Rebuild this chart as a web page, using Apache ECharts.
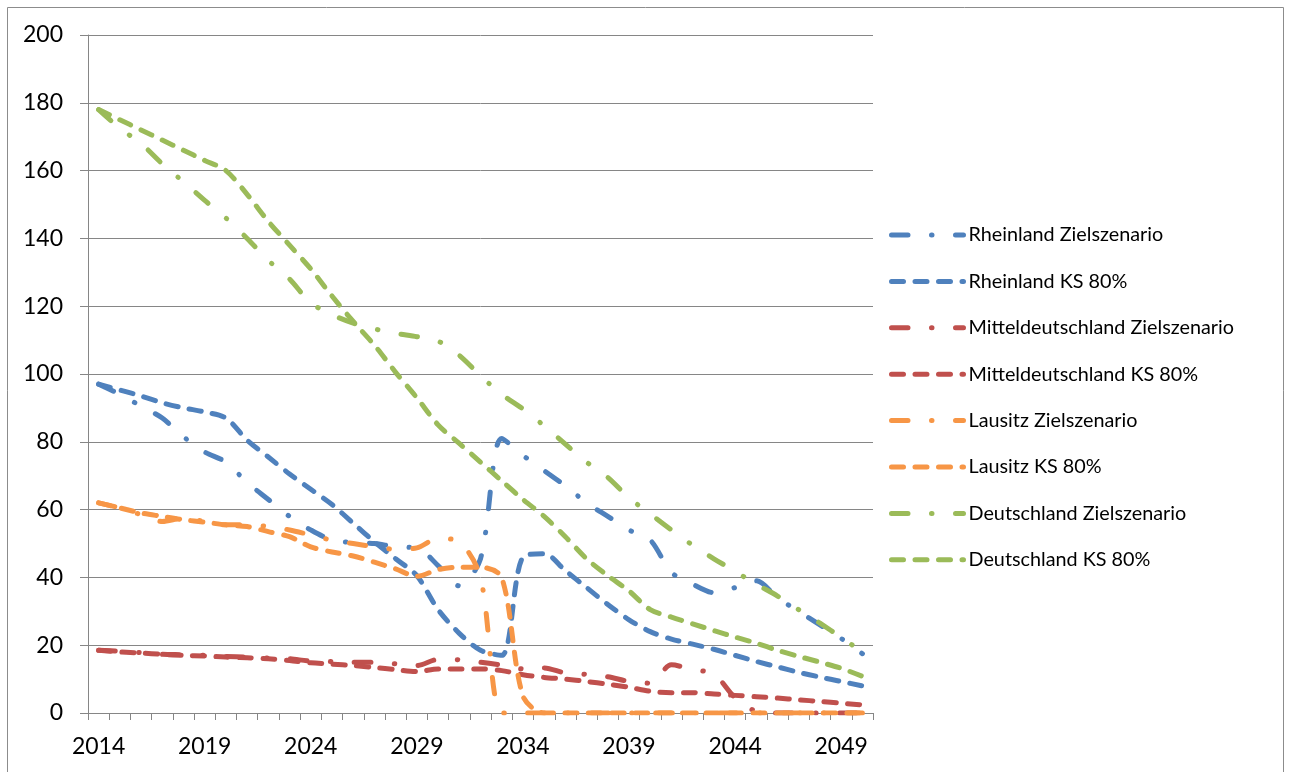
<!DOCTYPE html>
<html>
<head>
<meta charset="utf-8">
<script src="https://cdn.jsdelivr.net/npm/echarts@6/dist/echarts.min.js"></script>
<style>
html,body{margin:0;padding:0;background:#fff;}
#chart{width:1289px;height:772px;}
</style>
</head>
<body>
<div id="chart"></div>
<script>
var years = ['2014','2015','2016','2017','2018','2019','2020','2021','2022','2023','2024','2025','2026','2027','2028','2029','2030','2031','2032','2033','2034','2035','2036','2037','2038','2039','2040','2041','2042','2043','2044','2045','2046','2047','2048','2049','2050'];

var rheinlandZiel = [97, 94, 90.5, 87, 81.5, 77, 74, 68, 63, 58, 54, 51, 50.3, 50, 49, 48.7, 43.5, 37.5, 45.5, 81, 76, 71.5, 67, 62, 58, 54, 51, 41.5, 38, 35.5, 37, 39, 34, 30, 26, 22, 17.5];
var rheinlandKS = [97, 95.3, 93.5, 91.5, 90, 88.8, 87, 80.5, 75.5, 70.5, 66, 61.5, 56, 50.5, 45.5, 40.5, 30.5, 23.5, 18.5, 17, 46, 47, 42, 37, 32, 27.5, 24, 21.8, 20.3, 18.8, 17, 15.2, 13.6, 12, 10.6, 9.3, 8];
var mitteldeutschZiel = [18.5, 18.2, 17.8, 17.3, 17.2, 17, 16.7, 16.5, 16.2, 16, 15.3, 15.2, 15, 15, 14.5, 14, 15.8, 15.7, 15, 14.1, 13, 13.3, 11.8, 11.4, 10.7, 9.3, 8.8, 14.2, 12.8, 11.5, 4.5, 0.5, 0, 0, 0, 0, 0];
var mitteldeutschKS = [18.5, 18, 17.7, 17.3, 17, 16.8, 16.5, 16.3, 16, 15.5, 14.8, 14.4, 14, 13.4, 12.8, 12.2, 13, 13, 13, 12.5, 11.3, 10.5, 10, 9.3, 8.5, 7.6, 6.4, 6, 6, 5.6, 5.2, 4.8, 4.4, 3.9, 3.4, 2.9, 2.4];
var lausitzZiel = [62, 60.5, 58.5, 56.5, 57.5, 56.5, 55.5, 55.5, 55, 54, 52.5, 51, 50, 49, 48.3, 48.7, 51.5, 50.5, 40, 0, 0, 0, 0, 0, 0, 0, 0, 0, 0, 0, 0, 0, 0, 0, 0, 0, 0];
var lausitzKS = [62, 60.5, 59, 58, 57, 56.3, 55.5, 55, 53.5, 52, 49, 47.5, 46.3, 44.5, 42.5, 40.3, 42.3, 43, 43, 40, 5, 0, 0, 0, 0, 0, 0, 0, 0, 0, 0, 0, 0, 0, 0, 0, 0];
var deutschlandZiel = [178, 172.5, 168, 162, 156.7, 151.2, 146, 140, 133.5, 128, 121, 117.5, 115, 113.3, 112, 111, 109.7, 105.5, 99.5, 94, 89.7, 84.7, 79.3, 74, 69.5, 63.5, 58.7, 54, 49.5, 45.5, 41.8, 38, 34.5, 30.5, 26.5, 22.3, 18];
var deutschlandKS = [178, 175, 172, 169, 166, 163, 160, 153, 145, 138, 131, 123, 115.5, 108.5, 100.5, 93, 85, 79.5, 74, 68.5, 63, 58, 52, 45.5, 40.5, 36, 30.5, 28.3, 26.3, 24.3, 22.4, 20.6, 18.5, 16.7, 15, 13.2, 10.8];

var seriesNames = ['Rheinland Zielszenario','Rheinland KS 80%','Mitteldeutschland Zielszenario','Mitteldeutschland KS 80%','Lausitz Zielszenario','Lausitz KS 80%','Deutschland Zielszenario','Deutschland KS 80%'];
var seriesData = [rheinlandZiel, rheinlandKS, mitteldeutschZiel, mitteldeutschKS, lausitzZiel, lausitzKS, deutschlandZiel, deutschlandKS];
var colors = ['#4F81BD','#4F81BD','#C0504D','#C0504D','#F79646','#F79646','#9BBB59','#9BBB59'];

var FONT = 'Lato';
var LW = 5;
var dashDot = [16.5, 23.5, 0.5, 23.5];
var dashed = [12, 11.5];

var series = seriesNames.map(function (n, i) {
  return {
    name: n,
    type: 'line',
    data: seriesData[i],
    symbol: 'none',
    smooth: 0.3,
    lineStyle: {
      color: colors[i],
      width: LW,
      type: (i % 2 === 0) ? dashDot : dashed,
      cap: 'round',
      join: 'round'
    },
    itemStyle: { color: colors[i] }
  };
});

var legendData = seriesNames.map(function (n, i) {
  return {
    name: n,
    itemStyle: { opacity: 0 },
    lineStyle: {
      color: colors[i],
      width: LW,
      type: (i % 2 === 0) ? dashDot : dashed,
      cap: 'round',
      opacity: 1
    }
  };
});

var chart = echarts.init(document.getElementById('chart'), null, { renderer: 'canvas' });
chart.setOption({
  animation: false,
  backgroundColor: '#ffffff',
  graphic: [{
    type: 'rect',
    shape: { x: 7.5, y: 7.5, width: 1276, height: 800 },
    style: { fill: 'none', stroke: '#8c8c8c', lineWidth: 1 },
    silent: true, z: -10
  }],
  grid: { left: 88, right: 416, top: 35, bottom: 59, containLabel: false },
  legend: {
    orient: 'vertical',
    left: 884,
    top: 220,
    itemWidth: 72,
    itemHeight: 14,
    itemGap: 26.4,
    itemStyle: { opacity: 0 },
    textStyle: { fontFamily: FONT, fontSize: 19.8, color: '#000', lineHeight: 20 },
    data: legendData
  },
  xAxis: {
    type: 'category',
    data: years,
    boundaryGap: true,
    axisLine: { show: true, lineStyle: { color: '#868686', width: 1 } },
    axisTick: { show: true, interval: 0, length: 7, lineStyle: { color: '#868686' } },
    axisLabel: { interval: 4, margin: 22, fontFamily: FONT, fontSize: 23, color: '#000' },
    splitLine: { show: false }
  },
  yAxis: {
    type: 'value',
    min: 0, max: 200, interval: 20,
    axisLine: { show: true, lineStyle: { color: '#868686', width: 1 } },
    axisTick: { show: true, length: 8, lineStyle: { color: '#868686' } },
    axisLabel: { margin: 25, fontFamily: FONT, fontSize: 23, color: '#000' },
    splitLine: { show: true, lineStyle: { color: '#868686', width: 1 } }
  },
  series: series
});
</script>
</body>
</html>
